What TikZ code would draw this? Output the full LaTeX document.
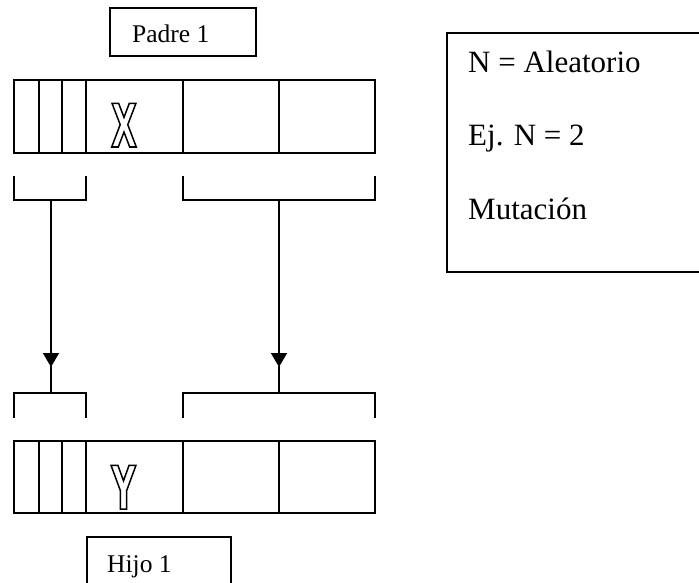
\documentclass[tikz,border=0pt]{standalone}
\usepackage{fontspec}
\setmainfont{Liberation Serif}
\newfontfamily\glyphfont[FakeStretch=0.56]{DejaVu Sans Bold}
\usetikzlibrary{arrows.meta}

\tikzset{
  ln/.style={line width=1.6pt, line cap=rect},
  hollow/.style={anchor=base, inner sep=0pt,
    font=\glyphfont\fontsize{60}{60}\selectfont},
  flow/.style={ln, -{Triangle[width=16pt,length=14pt]}},
}
% stroked (hollow) letters through the PDF text rendering mode
\newcommand{\outlined}[1]{\special{pdf:literal direct 1 Tr 1.5 w}#1\special{pdf:literal direct 0 Tr}}

\begin{document}
\begin{tikzpicture}[x=1pt, y=-1pt]
  \useasboundingbox (0,0) rectangle (699,583);

  % label boxes
  \draw[ln] (110,8) rectangle (256,56);
  \node[anchor=base west, inner sep=0pt, font=\fontsize{25.5}{30}\selectfont] (padre) at (132,43) {Padre 1};
  \draw[ln] (87,537) rectangle (231,600);
  \node[anchor=base west, inner sep=0pt, font=\fontsize{25.5}{30}\selectfont] (hijo) at (107,572) {Hijo 1};

  % note box (runs off the right edge)
  \draw[ln] (447,33) rectangle (710,272);
  \begin{scope}[every node/.style={anchor=base west, inner sep=0pt, font=\fontsize{31}{36}\selectfont}]
    \node (n1) at (468,73) {N = Aleatorio};
    \node (n2) at (468,146) {Ej. N = 2};
    \node (n3) at (468,219) {Mutación};
  \end{scope}

  % parent chromosome
  \draw[ln] (14,80) rectangle (375,153);
  \foreach \x in {39,62,86,183,279} \draw[ln] (\x,80) -- (\x,153);
  \node[hollow] (gx) at (124,147) {\outlined{X}};

  % child chromosome
  \draw[ln] (14,441) rectangle (375,513);
  \foreach \x in {39,62,86,183,279} \draw[ln] (\x,441) -- (\x,513);
  \node[hollow] (gy) at (123.5,509) {\outlined{Y}};

  % brackets below the parent
  \draw[ln] (14,177) -- (14,200) -- (86,200) -- (86,177);
  \draw[ln] (183,177) -- (183,200) -- (375,200) -- (375,177);
  % brackets above the child
  \draw[ln] (14,417) -- (14,393) -- (86,393) -- (86,417);
  \draw[ln] (183,417) -- (183,393) -- (375,393) -- (375,417);

  \coordinate (la) at (51,200);
  \coordinate (lm) at (51,367);
  \coordinate (lb) at (51,393);
  \coordinate (ra) at (279,200);
  \coordinate (rm) at (279,367);
  \coordinate (rb) at (279,393);

  \draw[flow] (la) -- (lm);
  \draw[ln] (lm) -- (lb);
  \draw[flow] (ra) -- (rm);
  \draw[ln] (rm) -- (rb);
\end{tikzpicture}
\end{document}
